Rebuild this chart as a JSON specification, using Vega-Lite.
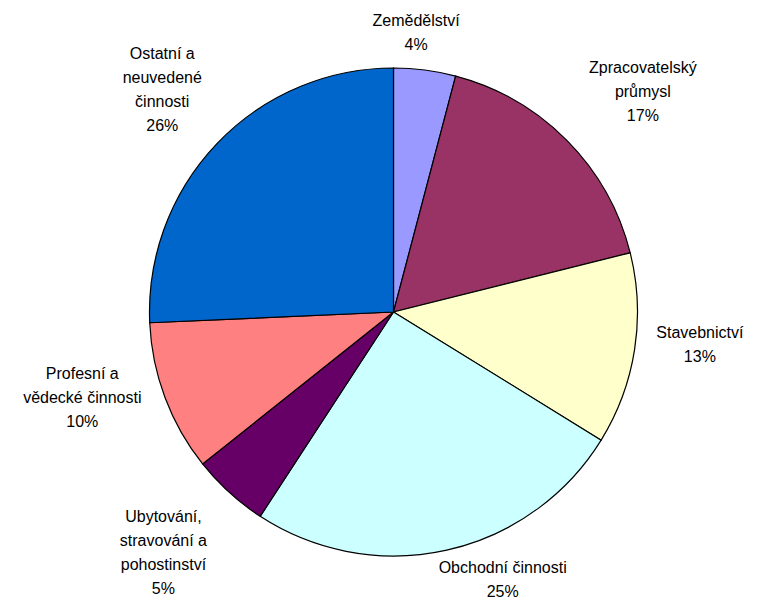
{
  "$schema": "https://vega.github.io/schema/vega-lite/v6.json",
  "width": 737,
  "height": 574,
  "padding": {"left": 25, "top": 25, "right": 0, "bottom": 1},
  "autosize": "none",
  "background": "white",
  "config": {"view": {"stroke": null}, "text": {"font": "Liberation Sans", "fontSize": 16, "lineBreak": "\n", "lineHeight": 24, "align": "center", "baseline": "middle", "color": "black"}},
  "data": {
    "values": [
      {"i": 1, "sector": "Zemědělství", "label": "Zemědělství\n4%", "share": 4.1},
      {"i": 2, "sector": "Zpracovatelský průmysl", "label": "Zpracovatelský\nprůmysl\n17%", "share": 17.0},
      {"i": 3, "sector": "Stavebnictví", "label": "Stavebnictví\n13%", "share": 12.7},
      {"i": 4, "sector": "Obchodní činnosti", "label": "Obchodní činnosti\n25%", "share": 25.4},
      {"i": 5, "sector": "Ubytování, stravování a pohostinství", "label": "Ubytování,\nstravování a\npohostinství\n5%", "share": 5.1},
      {"i": 6, "sector": "Profesní a vědecké činnosti", "label": "Profesní a\nvědecké činnosti\n10%", "share": 10.0},
      {"i": 7, "sector": "Ostatní a neuvedené činnosti", "label": "Ostatní a\nneuvedené\nčinnosti\n26%", "share": 25.7}
    ]
  },
  "transform": [
    {"stack": "share", "groupby": [], "sort": [{"field": "i", "order": "ascending"}], "as": ["s0", "s1"]},
    {"calculate": "(datum.s0 + datum.s1) / 2", "as": "mid"}
  ],
  "layer": [
    {
      "mark": {"type": "arc", "outerRadius": 244, "stroke": "black", "strokeWidth": 1.2},
      "encoding": {
        "theta": {"field": "s0", "type": "quantitative", "scale": {"domain": [0, 100]}},
        "theta2": {"field": "s1"},
        "color": {
          "field": "sector",
          "type": "nominal",
          "legend": null,
          "scale": {
            "domain": ["Zemědělství", "Zpracovatelský průmysl", "Stavebnictví", "Obchodní činnosti", "Ubytování, stravování a pohostinství", "Profesní a vědecké činnosti", "Ostatní a neuvedené činnosti"],
            "range": ["#9999FF", "#993366", "#FFFFCC", "#CCFFFF", "#660066", "#FF8080", "#0066CC"]
          }
        }
      }
    },
    {
      "transform": [{"filter": {"field": "sector", "equal": "Zemědělství"}}],
      "mark": {"type": "text", "radius": 285, "dx": -14, "dy": -8},
      "encoding": {
        "theta": {"field": "mid", "type": "quantitative", "stack": null, "scale": {"domain": [0, 100]}},
        "text": {"field": "label", "type": "nominal"}
      }
    },
    {
      "transform": [{"filter": {"field": "sector", "equal": "Obchodní činnosti"}}],
      "mark": {"type": "text", "radius": 285, "dx": 47, "dy": -22},
      "encoding": {
        "theta": {"field": "mid", "type": "quantitative", "stack": null, "scale": {"domain": [0, 100]}},
        "text": {"field": "label", "type": "nominal"}
      }
    },
    {
      "transform": [{"filter": {"field": "sector", "equal": "Stavebnictví"}}],
      "mark": {"type": "text", "radius": 308, "dx": 2, "dy": -26},
      "encoding": {
        "theta": {"field": "mid", "type": "quantitative", "stack": null, "scale": {"domain": [0, 100]}},
        "text": {"field": "label", "type": "nominal"}
      }
    },
    {
      "transform": [{"filter": {"field": "sector", "equal": "Zpracovatelský průmysl"}}],
      "mark": {"type": "text", "radius": 328, "dx": 16, "dy": -14},
      "encoding": {
        "theta": {"field": "mid", "type": "quantitative", "stack": null, "scale": {"domain": [0, 100]}},
        "text": {"field": "label", "type": "nominal"}
      }
    },
    {
      "transform": [{"filter": {"field": "sector", "equal": "Profesní a vědecké činnosti"}}],
      "mark": {"type": "text", "radius": 328, "dx": -4, "dy": -53},
      "encoding": {
        "theta": {"field": "mid", "type": "quantitative", "stack": null, "scale": {"domain": [0, 100]}},
        "text": {"field": "label", "type": "nominal"}
      }
    },
    {
      "transform": [{"filter": {"field": "sector", "equal": "Ubytování, stravování a pohostinství"}}],
      "mark": {"type": "text", "radius": 327, "dx": -10, "dy": -37},
      "encoding": {
        "theta": {"field": "mid", "type": "quantitative", "stack": null, "scale": {"domain": [0, 100]}},
        "text": {"field": "label", "type": "nominal"}
      }
    },
    {
      "transform": [{"filter": {"field": "sector", "equal": "Ostatní a neuvedené činnosti"}}],
      "mark": {"type": "text", "radius": 327, "dx": 5, "dy": -32},
      "encoding": {
        "theta": {"field": "mid", "type": "quantitative", "stack": null, "scale": {"domain": [0, 100]}},
        "text": {"field": "label", "type": "nominal"}
      }
    }
  ]
}
